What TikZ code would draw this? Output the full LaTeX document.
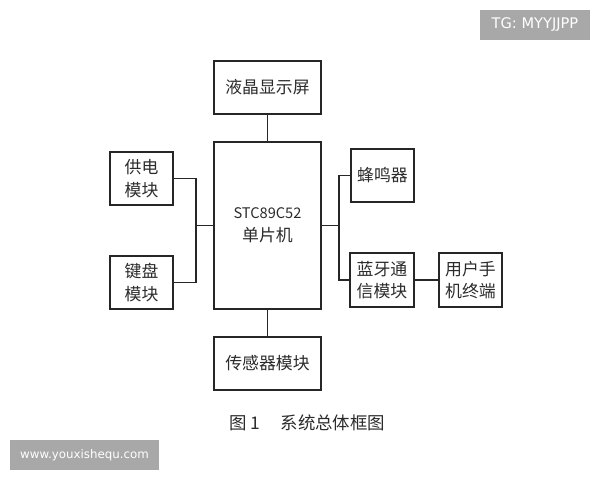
\documentclass[tikz,border=0pt]{standalone}
\usepackage{fontspec}
\setmainfont{Noto Sans CJK SC}
\newfontfamily\markfont{DejaVu Sans}
\definecolor{markgray}{HTML}{A8A8A8}
\definecolor{inkgray}{HTML}{2B2B2B}
\tikzset{
	blockbox/.style={draw=black!85,line width=0.95pt,inner sep=0,outer sep=0,align=center,text=inkgray,font=\fontsize{12}{16.2}\selectfont},
	wire/.style={black!85,line width=0.95pt},
	markbox/.style={fill=markgray,text=white,inner sep=0,outer sep=0},
}
\begin{document}
\begin{tikzpicture}[x=0.025cm,y=-0.025cm]
	\useasboundingbox (0,0) rectangle (600,480);
	\node[blockbox,minimum width=107*0.025cm,minimum height=53*0.025cm] (lcd) at (267.5,87.5) {液晶显示屏};
	\node[blockbox,minimum width=107*0.025cm,minimum height=167*0.025cm] (mcu) at (267.5,225.5) {{\fontsize{10.4}{15.6}\selectfont STC89C52}\\单片机};
	\node[blockbox,minimum width=107*0.025cm,minimum height=53*0.025cm] (sensor) at (267.5,363.5) {传感器模块};
	\node[blockbox,minimum width=63*0.025cm,minimum height=53*0.025cm] (power) at (141.5,178.5) {供电\\模块};
	\node[blockbox,minimum width=63*0.025cm,minimum height=53*0.025cm] (keys) at (141.5,282.5) {键盘\\模块};
	\node[blockbox,minimum width=63*0.025cm,minimum height=53*0.025cm] (buzzer) at (382.5,175.5) {蜂鸣器};
	\node[blockbox,minimum width=64*0.025cm,minimum height=54*0.025cm] (bt) at (382,280) {蓝牙通\\信模块};
	\node[blockbox,minimum width=63*0.025cm,minimum height=54*0.025cm] (user) at (470.5,280) {用户手\\机终端};
	\coordinate (busleft) at (196,225.5);
	\coordinate (busright) at (339,225.5);
	\draw[wire] (lcd) -- (mcu);
	\draw[wire] (mcu) -- (sensor);
	\draw[wire] (mcu.west) -- (busleft);
	\draw[wire] (mcu.east) -- (busright);
	\draw[wire] (power.east) -| (busleft);
	\draw[wire] (keys.east) -| (busleft);
	\draw[wire] (buzzer.west) -| (busright);
	\draw[wire] (bt.west) -| (busright);
	\draw[wire] (bt) -- (user);
	\node[text=inkgray,font=\fontsize{12.4}{15}\selectfont,inner sep=0] (caption) at (307.5,423) {图\,1\hspace{1.2em}系统总体框图};
	\node[markbox,font=\markfont\fontsize{10.4}{12}\selectfont,minimum width=110*0.025cm,minimum height=30*0.025cm] (tgmark) at (535,25) {TG: MYYJJPP};
	\node[markbox,font=\markfont\fontsize{8.4}{10}\selectfont,minimum width=149*0.025cm,minimum height=30*0.025cm] (webmark) at (84.5,455) {www.youxishequ.com};
\end{tikzpicture}
\end{document}
